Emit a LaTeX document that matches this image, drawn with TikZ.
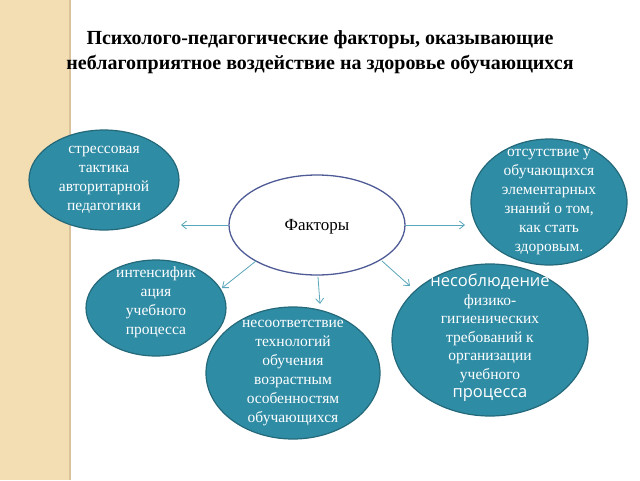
\documentclass[tikz,border=0pt]{standalone}
\usepackage{fontspec}
\setmainfont{Liberation Serif}
\newfontfamily\sansf{Open Sans}
\usetikzlibrary{arrows.meta}
\definecolor{teal1}{HTML}{2F8CA5}
\definecolor{tealb}{HTML}{24697A}
\definecolor{arr}{HTML}{5AA6BA}
\definecolor{beige}{HTML}{F3DDB2}
\definecolor{beigel}{HTML}{D9C39B}
\definecolor{cb}{HTML}{4F5B96}
\begin{document}
\begin{tikzpicture}[x=1pt,y=-1pt,
  blob/.style={text=white,inner sep=0pt,align=center,font=\fontsize{15.5}{19}\selectfont},
  shapeb/.style={draw=tealb,line width=1.2pt,fill=teal1},
  conn/.style={draw=arr,line width=0.8pt,-{Straight Barb[length=5pt,width=8pt]}}]
\useasboundingbox (0,0) rectangle (640,480);
\fill[white] (0,0) rectangle (640,480);
\fill[beige] (0,0) rectangle (70,480);
\draw[beigel,line width=1.5pt] (70,0) -- (70,480);
\node[font=\bfseries\fontsize{20}{25}\selectfont,align=center] (title) at (320,52) {Психолого-педагогические факторы, оказывающие\\неблагоприятное воздействие на здоровье обучающихся};
\draw[shapeb] (104,180) ellipse (75 and 50);
\node[blob] (a) at (104,180) {стрессовая\\тактика\\авторитарной\\педагогики};
\draw[shapeb] (549,202) ellipse (78 and 63);
\node[blob] (b) at (549,202) {отсутствие у\\обучающихся\\элементарных\\знаний о том,\\как стать\\здоровым.};
\draw[shapeb] (156,308) ellipse (70 and 48);
\node[blob] (c) at (156,302) {интенсифик\\ация\\учебного\\процесса};
\draw[shapeb] (490,340) ellipse (98 and 76);
\node[blob,font=\fontsize{15.5}{18.5}\selectfont] (d) at (490,338) {{\sansf\fontsize{16.5}{19}\selectfont несоблюдение}\\физико-\\гигиенических\\требований к\\организации\\учебного\\{\sansf\fontsize{16.5}{19}\selectfont процесса}};
\draw[shapeb] (293,373) ellipse (87 and 66);
\node[blob] (e) at (293,373) {несоответствие\\технологий\\обучения\\возрастным\\особенностям\\обучающихся};
\draw[cb,line width=1.3pt,fill=white] (317,225) ellipse (88 and 50);
\node[font=\fontsize{17}{20}\selectfont] (f) at (317,227) {Факторы};
\coordinate (f1) at (228,225); \coordinate (a1) at (181,225);
\coordinate (f2) at (406,225); \coordinate (b1) at (465,225);
\coordinate (f3) at (256,261); \coordinate (c1) at (222,288);
\coordinate (f4) at (318,277); \coordinate (e1) at (320,304);
\coordinate (f5) at (382,261); \coordinate (d1) at (410,286);
\draw[conn] (f1) -- (a1);
\draw[conn] (f2) -- (b1);
\draw[conn] (f3) -- (c1);
\draw[conn] (f4) -- (e1);
\draw[conn] (f5) -- (d1);
\end{tikzpicture}
\end{document}
